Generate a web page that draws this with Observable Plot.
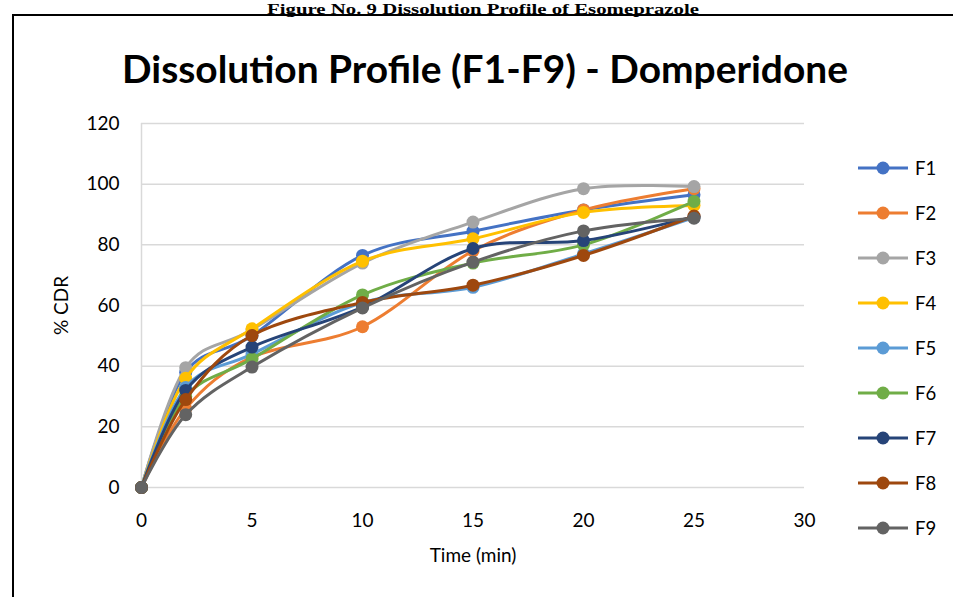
<!DOCTYPE html>
<html>
<head>
<meta charset="utf-8">
<script src="https://cdn.jsdelivr.net/npm/d3@7"></script>
<script src="https://cdn.jsdelivr.net/npm/@observablehq/plot@0.6"></script>
<style>
  body { margin: 0; background: #fff; }
  #wrap { position: relative; width: 953px; height: 597px; overflow: hidden; background: #fff; font-family: Lato, "Open Sans", sans-serif; }
  #caption { position: absolute; left: 0; top: 0; }
  #frame { position: absolute; left: 12px; top: 14px; width: 1000px; height: 700px; border: 2px solid #000; box-sizing: border-box; }
  #title { position: absolute; left: 0; top: 0; }
  #chart { position: absolute; left: 0; top: 0; }
  #legend { position: absolute; left: 0; top: 0; width: 953px; height: 597px; pointer-events: none; }
  .item { position: absolute; left: 856px; height: 20px; display: flex; align-items: center; font-size: 18.5px; color: #000; }
  .item span { margin-left: 5px; }
</style>
</head>
<body>
<div id="wrap">
  <div id="frame"></div>
  <svg id="caption" width="953" height="24">
    <text x="483" y="13.6" text-anchor="middle" textLength="432" lengthAdjust="spacingAndGlyphs" font-family="'Liberation Serif', 'Times New Roman', serif" font-weight="bold" font-size="15" fill="#000">Figure No. 9 Dissolution Profile of Esomeprazole</text>
  </svg>
  <div id="chart"></div>
  <svg id="title" width="953" height="110">
    <text x="485" y="83" text-anchor="middle" textLength="726" lengthAdjust="spacingAndGlyphs"
      font-family="Lato, 'Open Sans', sans-serif" font-weight="bold" font-size="38" fill="#000">Dissolution Profile (F1-F9) - Domperidone</text>
  </svg>
  <div id="legend"></div>
</div>
<script>
// Sampling times (min)
const times = [0, 2, 5, 10, 15, 20, 25];
// Formulations
const formulations = ["F1", "F2", "F3", "F4", "F5", "F6", "F7", "F8", "F9"];
// Cumulative drug release (%) per formulation
const F1 = [0, 38, 50, 76.5, 84.5, 91.5, 96.5];
const F2 = [0, 26, 43, 53, 78, 91.5, 98.5];
const F3 = [0, 39.5, 52, 74, 87.5, 98.5, 99.2];
const F4 = [0, 36, 52.3, 74.6, 82, 90.7, 93];
const F5 = [0, 33, 44, 61, 66, 77, 89];
const F6 = [0, 30, 42.4, 63.5, 74, 80, 94.3];
const F7 = [0, 32, 46.3, 59.5, 78.8, 81.4, 89.3];
const F8 = [0, 29, 50.1, 61, 66.7, 76.5, 89.5];
const F9 = [0, 24, 39.7, 59.2, 74.3, 84.6, 88.8];
// Series colours
const colors = ["#4472C4", "#ED7D31", "#A5A5A5", "#FFC000", "#5B9BD5", "#70AD47", "#264478", "#9E480E", "#636363"];
// Axis ticks and titles
const yTicks = [0, 20, 40, 60, 80, 100, 120];
const xTicks = [0, 5, 10, 15, 20, 25, 30];
const xTitle = "Time (min)";
const yTitle = "% CDR";

const seriesValues = [F1, F2, F3, F4, F5, F6, F7, F8, F9];
const rows = formulations.flatMap((f, i) =>
  times.map((t, j) => ({formulation: f, time: t, cdr: seriesValues[i][j]}))
);

// Each series draws its line then its markers, in order, so later series sit on top.
const seriesMarks = formulations.flatMap((f) => {
  const data = rows.filter((d) => d.formulation === f);
  return [
    Plot.line(data, {x: "time", y: "cdr", stroke: "formulation", curve: "cardinal", strokeWidth: 3, strokeLinejoin: "round", strokeLinecap: "round"}),
    Plot.dot(data, {x: "time", y: "cdr", fill: "formulation", r: 6.5})
  ];
});

const chart = Plot.plot({
  width: 953,
  height: 597,
  marginLeft: 141,
  marginRight: 149,
  marginTop: 123,
  marginBottom: 110,
  style: {fontFamily: "Lato, 'Open Sans', sans-serif", fontSize: "19px", color: "#000", background: "transparent", overflow: "visible"},
  x: {domain: [0, 30]},
  y: {domain: [0, 120]},
  color: {domain: formulations, range: colors},
  marks: [
    Plot.gridY(yTicks, {stroke: "#d9d9d9", strokeOpacity: 1, strokeWidth: 1.5}),
    Plot.ruleX([0], {stroke: "#d9d9d9", strokeWidth: 1.5}),
    Plot.axisY(yTicks, {tickSize: 0, tickPadding: 22, fontSize: 19, label: null}),
    Plot.axisX(xTicks, {tickSize: 0, tickPadding: 26, fontSize: 19, label: null}),
    Plot.text([xTitle], {frameAnchor: "bottom", dy: 68, lineAnchor: "middle", textAnchor: "middle", fontSize: 19, fill: "#000"}),
    Plot.text([yTitle], {frameAnchor: "left", dx: -80, rotate: -90, lineAnchor: "middle", textAnchor: "middle", fontSize: 19, fill: "#000"}),
    ...seriesMarks
  ]
});
document.getElementById("chart").appendChild(chart);

// Legend on the right
const legendTops = [168, 213, 258, 303, 348, 393, 438, 483, 528];
const legend = document.getElementById("legend");
formulations.forEach((f, i) => {
  const item = document.createElement("div");
  item.className = "item";
  item.style.top = (legendTops[i] - 10) + "px";
  item.innerHTML = `<svg width="54" height="20"><line x1="2" x2="52" y1="10" y2="10" stroke="${colors[i]}" stroke-width="3"/><circle cx="27" cy="10" r="6.5" fill="${colors[i]}"/></svg><span>${f}</span>`;
  legend.appendChild(item);
});
</script>
</body>
</html>
